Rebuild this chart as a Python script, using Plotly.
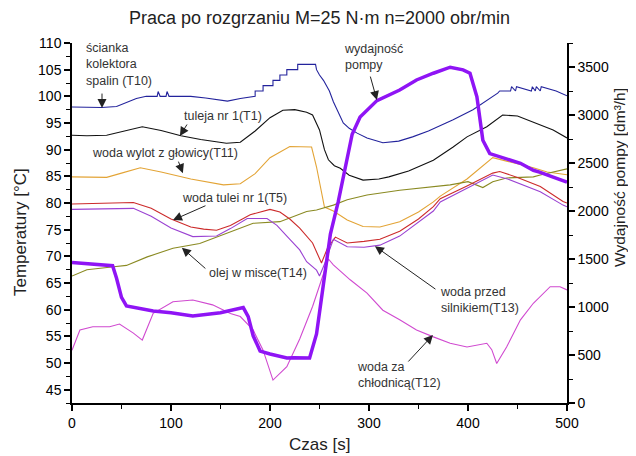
import plotly.graph_objects as go

# ---------------- data ----------------
t10_t = [0, 20, 30, 45, 55, 65, 75, 86, 87, 89, 95, 96, 98, 120, 135, 150, 157, 170, 183,
         185, 185, 193, 193, 203, 203, 210, 210, 217, 217, 228, 228, 246, 247, 250, 254, 257, 260,
         264, 269, 274, 280, 288, 298, 314, 330, 344, 360, 385, 405, 425, 430, 432,
         443, 444, 448, 449, 464, 465, 468, 469, 473, 474, 488, 489, 500]
t10_v = [98.0, 98.0, 97.9, 98.1, 98.8, 99.6, 100.0, 100.0, 100.9, 100.0, 100.0, 100.9, 100.0, 100.0, 99.7, 99.2, 99.1, 99.6, 100.0,
         100.0, 101.0, 101.0, 102.0, 102.0, 103.0, 103.0, 104.0, 104.0, 105.0, 105.0, 106.0, 106.0, 105.0, 104.0, 103.0, 102.0, 101.0,
         99.0, 97.0, 95.0, 94.0, 93.1, 92.2, 91.3, 91.6, 92.4, 93.5, 95.6, 97.5, 99.9, 100.6, 101.0,
         101.0, 101.8, 101.0, 101.8, 101.0, 101.8, 101.0, 101.8, 101.0, 101.8, 101.0, 101.0, 100.1, 100.1]

t1_t = [0, 15, 35, 50, 71, 90, 110, 130, 156, 170, 185, 200, 213, 225, 237, 243, 250, 255, 259, 265,
        271, 280, 294, 310, 320, 340, 365, 385, 399, 419, 435, 450, 466, 486, 500]
t1_v = [92.7, 92.6, 92.7, 93.4, 94.3, 93.6, 92.6, 91.9, 91.2, 91.4, 93.5, 96.0, 97.4, 97.5, 97.0, 96.5, 93.7, 90.0, 88.1, 87.0,
        86.5, 85.2, 84.3, 84.5, 84.9, 86.0, 88.0, 90.5, 92.4, 94.3, 96.5, 96.3, 95.2, 93.7, 92.2]

t11_t = [0, 35, 50, 69, 90, 120, 153, 170, 185, 200, 220, 242, 247, 252, 255, 264, 278, 294, 311, 331,
         350, 365, 372, 399, 425, 440, 466, 480, 500]
t11_v = [84.9, 84.8, 85.6, 86.6, 85.8, 84.5, 83.4, 83.6, 85.5, 88.5, 90.6, 90.5, 86.75, 81.9, 79.25, 78.5, 76.8, 75.6, 75.5, 76.5,
         78.3, 80.2, 81.3, 84.5, 88.5, 87.8, 86.6, 85.8, 85.3]

t5_t = [0, 30, 62, 80, 100, 120, 133, 146, 160, 180, 200, 210, 220, 230, 243, 252, 258, 266, 278, 295,
        311, 331, 350, 365, 372, 399, 425, 432, 450, 473, 496, 500]
t5_v = [79.8, 79.9, 80.1, 79.0, 77.0, 75.5, 75.1, 74.9, 75.8, 77.8, 78.8, 78.3, 77.0, 75.3, 72.5, 68.75, 71.5, 73.6, 72.5, 72.8,
        73.2, 74.7, 77.0, 79.3, 80.8, 83.2, 85.6, 85.9, 84.8, 83.1, 80.3, 80.0]

t13_t = [0, 30, 62, 80, 100, 122, 146, 160, 177, 197, 207, 217, 230, 237, 247, 250, 255, 264, 278, 295,
         311, 331, 350, 365, 372, 399, 425, 440, 473, 496, 500]
t13_v = [78.8, 78.9, 79.0, 77.5, 75.3, 73.7, 73.8, 75.2, 77.1, 77.1, 75.8, 73.8, 71.2, 69.0, 67.4, 66.3, 68.5, 73.2, 71.8, 71.7,
         72.1, 73.8, 76.5, 78.5, 80.2, 82.8, 85.25, 84.5, 82.1, 79.6, 79.3]

t14_t = [0, 15, 40, 55, 76, 102, 129, 156, 183, 210, 237, 247, 264, 278, 298, 331, 365, 382, 400, 415,
         425, 439, 466, 473, 500]
t14_v = [66.3, 67.5, 68.0, 68.3, 69.9, 71.5, 72.4, 74.3, 76.2, 76.5, 78.4, 78.7, 79.6, 80.6, 81.5, 82.4, 83.0, 83.4, 84.0, 82.9,
         84.0, 84.7, 84.9, 85.25, 86.4]

t12_t = [0, 4, 8, 21, 38, 48, 62, 71, 82, 102, 122, 142, 160, 170, 183, 193, 203, 217, 230, 243,
         251, 259, 264, 281, 298, 314, 331, 348, 365, 382, 399, 419, 424, 429, 439, 453, 466, 483, 493, 500]
t12_v = [52.4, 54.5, 56.2, 56.8, 56.8, 57.3, 55.6, 54.3, 59.3, 61.5, 61.8, 60.9, 59.3, 58.7, 56.2, 52.4, 46.8, 49.3, 54.5, 60.6,
         65.0, 69.5, 68.4, 65.6, 63.1, 59.9, 58.1, 56.2, 54.9, 53.7, 53.0, 53.7, 52.5, 49.9, 53.0, 58.1, 61.2, 64.3, 64.3, 63.7]

pump_t = [0, 20, 41, 45, 50, 55, 70, 82, 100, 122, 150, 165, 173, 178, 183, 190, 200, 217, 224, 240,
          244, 247, 254, 259, 261, 269, 276, 283, 291, 298, 308, 331, 348, 365, 382, 395, 402, 409, 415, 422,
          432, 453, 466, 473, 486, 500]
pump_v = [1464, 1450, 1430, 1300, 1100, 1011, 980, 959, 940, 907, 941, 980, 994, 900, 700, 541, 510, 468, 471, 468,
          600, 720, 1240, 1590, 1760, 2100, 2450, 2800, 2980, 3050, 3150, 3260, 3365, 3435, 3498, 3470, 3435, 3190, 2737, 2598,
          2563, 2497, 2424, 2403, 2354, 2300]

x_ticks = [0, 100, 200, 300, 400, 500]
y_ticks = [45, 50, 55, 60, 65, 70, 75, 80, 85, 90, 95, 100, 105, 110]
y2_ticks = [0, 500, 1000, 1500, 2000, 2500, 3000, 3500]

FONT = "Liberation Sans, Arial, sans-serif"

# the page body has an 8px margin, so the figure is drawn at (8, 8) in the window
W, H = 628, 448
ML, MR, MT, MB = 64, 69, 35, 53
PW, PH = W - ML - MR, H - MT - MB


def px(x_win):
    return (x_win - 8 - ML) / PW


def py(y_win):
    return (H - MB - (y_win - 8)) / PH


fig = go.Figure()

series = [
    (t10_t, t10_v, "#23239c", 1.1, "T10"),
    (t1_t, t1_v, "#111111", 1.1, "T1"),
    (t11_t, t11_v, "#e3a436", 1.1, "T11"),
    (t14_t, t14_v, "#8a8a22", 1.1, "T14"),
    (t5_t, t5_v, "#cc2b2b", 1.1, "T5"),
    (t13_t, t13_v, "#9a42d2", 1.1, "T13"),
    (t12_t, t12_v, "#d04ad0", 1.1, "T12"),
]
for xs, ys, col, w, name in series:
    fig.add_trace(go.Scatter(x=xs, y=ys, mode="lines", name=name,
                             line=dict(color=col, width=w), yaxis="y"))

fig.add_trace(go.Scatter(x=pump_t, y=pump_v, mode="lines", name="pompa",
                         line=dict(color="#8f14f5", width=3.5), yaxis="y2"))

axis_common = dict(showline=True, linecolor="black", linewidth=1.5, ticks="outside",
                   ticklen=6, tickwidth=1.5, tickcolor="black", showgrid=False, zeroline=False,
                   tickfont=dict(family=FONT, size=14, color="black"))

fig.update_layout(
    width=W, height=H,
    margin=dict(l=ML, r=MR, t=MT, b=MB),
    paper_bgcolor="white", plot_bgcolor="white",
    showlegend=False,
    title=dict(text="Praca po rozgrzaniu M=25 N·m n=2000 obr/min",
               x=0.5, xref="paper", xanchor="center", y=1 - (18 - 8) / H, yanchor="middle",
               font=dict(family=FONT, size=18, color="#222222")),
    xaxis=dict(range=[0, 500], tickvals=x_ticks,
               minor=dict(ticks="outside", ticklen=4, tickwidth=1.2, tickcolor="black", dtick=50, tick0=0),
               **axis_common),
    yaxis=dict(range=[42.5, 110], tickvals=y_ticks,
               minor=dict(ticks="outside", ticklen=4, tickwidth=1.2, tickcolor="black", dtick=2.5, tick0=0),
               **axis_common),
    yaxis2=dict(range=[0, 3750], tickvals=y2_ticks, overlaying="y", side="right",
                minor=dict(ticks="outside", ticklen=4, tickwidth=1.2, tickcolor="black", dtick=250, tick0=0),
                **axis_common),
)

# axis titles
fig.add_annotation(text="Czas [s]", xref="paper", yref="paper", x=0.5, y=py(444),
                   showarrow=False, xanchor="center", yanchor="middle",
                   font=dict(family=FONT, size=17, color="#222222"))
fig.add_annotation(text="Temperatury [°C]", xref="paper", yref="paper", x=px(20),
                   y=py(232), showarrow=False, textangle=-90,
                   xanchor="center", yanchor="middle",
                   font=dict(family=FONT, size=17, color="#222222"))
fig.add_annotation(text="Wydajność pompy [dm³/h]", xref="paper", yref="paper", x=px(619),
                   y=py(178), showarrow=False, textangle=-90,
                   xanchor="center", yanchor="middle",
                   font=dict(family=FONT, size=15.5, color="#222222"))

# in-plot labels
labels = [
    ("ścianka<br>kolektora<br>spalin (T10)", 12.1, 105.97),
    ("tuleja nr 1(T1)", 111.1, 96.3),
    ("woda wylot z głowicy(T11)", 18.2, 89.4),
    ("woda tulei nr 1(T5)", 109.1, 80.9),
    ("olej w misce(T14)", 136.4, 66.9),
    ("woda przed<br>silnikiem(T13)", 369.7, 61.9),
    ("woda za<br>chłodnicą(T12)", 285.9, 47.7),
    ("wydajność<br>pompy", 272.5, 107.4),
]
for txt, x, y in labels:
    fig.add_annotation(text=txt, x=x, y=y, xref="x", yref="y", showarrow=False,
                       xanchor="left", yanchor="middle", align="left",
                       font=dict(family=FONT, size=12.5, color="#333333"))

arrows = [
    (30.3, 97.8, 0, -16),
    (109, 92.56, 8, -13),
    (112, 85.6, -5, -13),
    (102, 76.8, 34, -15),
    (111, 71.6, 25, 22),
    (306, 71.9, 62, 44),
    (364.6, 55.25, -26, 28),
    (308, 99.3, -7, -25),
]
for x, y, ax, ay in arrows:
    fig.add_annotation(text="", x=x, y=y, xref="x", yref="y", showarrow=True,
                       ax=ax, ay=ay, axref="pixel", ayref="pixel",
                       arrowhead=2, arrowsize=1.8, arrowwidth=1, arrowcolor="#222222", standoff=0)

fig.write_html("out.html")
